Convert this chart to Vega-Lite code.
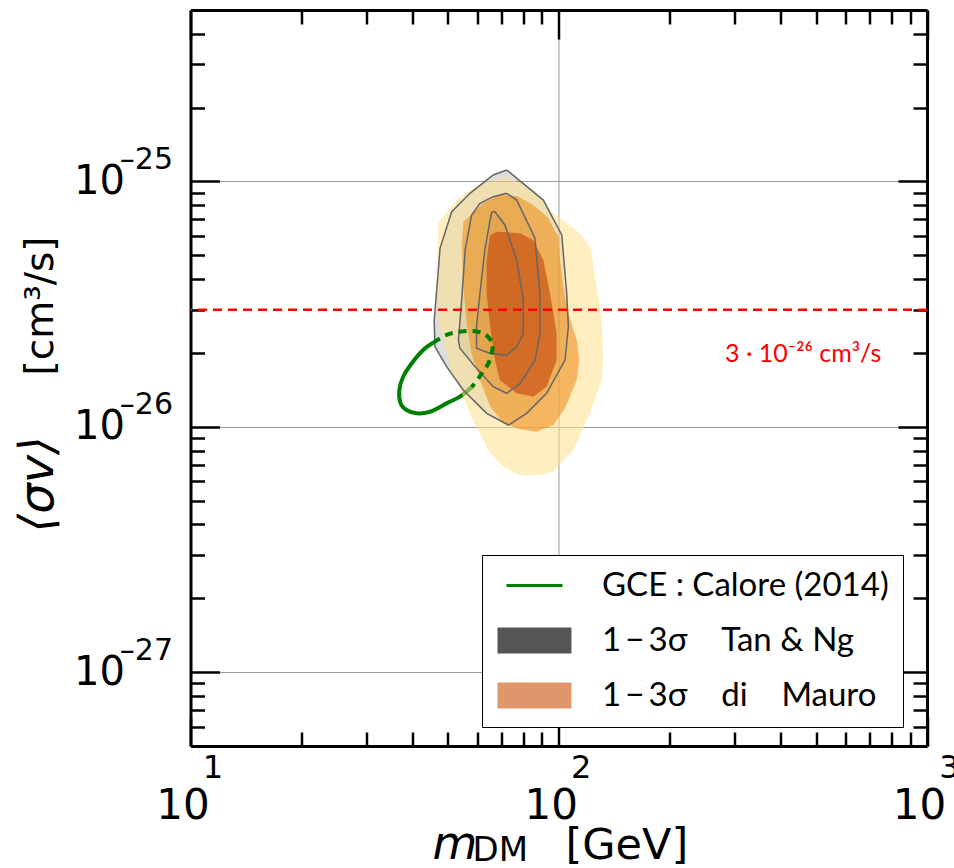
{
  "$schema": "https://vega.github.io/schema/vega-lite/v6.json",
  "width": 736.5,
  "height": 736,
  "autosize": {"type": "none"},
  "padding": {"left": 190.5, "top": 10, "right": 27, "bottom": 122},
  "background": "white",
  "config": {
    "view": {"stroke": null},
    "axis": {
      "domainColor": "black", "domainWidth": 3, "tickColor": "black", "tickWidth": 2.5,
      "labelColor": "black", "titleColor": "black", "labelFont": "DejaVu Sans", "titleFont": "DejaVu Sans",
      "titleFontWeight": "normal", "labelFontWeight": "normal", "labelOverlap": false, "labelFlush": false,
      "gridColor": "#999999", "gridWidth": 1
    },
    "legend": {
      "orient": "none", "legendX": 291.5, "legendY": 545, "padding": 14,
      "strokeColor": "black", "fillColor": "white", "cornerRadius": 0,
      "labelFont": "Lato", "labelFontSize": 33, "labelColor": "black", "labelOffset": 73,
      "rowPadding": 21, "symbolSize": 900, "symbolStrokeWidth": 0, "symbolOpacity": 1, "labelLimit": 500
    }
  },
  "datasets": {
    "c": [
      {"g": "dm3", "i": 0, "m": 47.1, "sv": 6.75e-26},
      {"g": "dm3", "i": 1, "m": 46.8, "sv": 4.79e-26},
      {"g": "dm3", "i": 2, "m": 47.1, "sv": 2.72e-26},
      {"g": "dm3", "i": 3, "m": 49.1, "sv": 2.12e-26},
      {"g": "dm3", "i": 4, "m": 51.2, "sv": 1.65e-26},
      {"g": "dm3", "i": 5, "m": 54.5, "sv": 1.37e-26},
      {"g": "dm3", "i": 6, "m": 58.0, "sv": 1.10e-26},
      {"g": "dm3", "i": 7, "m": 65.1, "sv": 7.80e-27},
      {"g": "dm3", "i": 8, "m": 70.7, "sv": 6.88e-27},
      {"g": "dm3", "i": 9, "m": 78.5, "sv": 6.36e-27},
      {"g": "dm3", "i": 10, "m": 88.9, "sv": 6.36e-27},
      {"g": "dm3", "i": 11, "m": 96.7, "sv": 6.56e-27},
      {"g": "dm3", "i": 12, "m": 109.5, "sv": 8.04e-27},
      {"g": "dm3", "i": 13, "m": 121.6, "sv": 1.135e-26},
      {"g": "dm3", "i": 14, "m": 130.9, "sv": 1.55e-26},
      {"g": "dm3", "i": 15, "m": 132.1, "sv": 1.87e-26},
      {"g": "dm3", "i": 16, "m": 130.9, "sv": 2.72e-26},
      {"g": "dm3", "i": 17, "m": 126.8, "sv": 3.72e-26},
      {"g": "dm3", "i": 18, "m": 122.1, "sv": 5.34e-26},
      {"g": "dm3", "i": 19, "m": 114.2, "sv": 6.15e-26},
      {"g": "dm3", "i": 20, "m": 105.1, "sv": 6.75e-26},
      {"g": "dm3", "i": 21, "m": 96.7, "sv": 7.42e-26},
      {"g": "dm3", "i": 22, "m": 85.3, "sv": 9.23e-26},
      {"g": "dm3", "i": 23, "m": 72.2, "sv": 1.046e-25},
      {"g": "dm3", "i": 24, "m": 61.1, "sv": 9.83e-26},
      {"g": "dm3", "i": 25, "m": 52.8, "sv": 8.40e-26},
      {"g": "dm3", "i": 26, "m": 47.1, "sv": 6.75e-26},
      {"g": "dm2", "i": 0, "m": 55.1, "sv": 6.86e-26},
      {"g": "dm2", "i": 1, "m": 54.5, "sv": 5.42e-26},
      {"g": "dm2", "i": 2, "m": 55.1, "sv": 3.72e-26},
      {"g": "dm2", "i": 3, "m": 56.4, "sv": 2.56e-26},
      {"g": "dm2", "i": 4, "m": 58.0, "sv": 1.99e-26},
      {"g": "dm2", "i": 5, "m": 61.1, "sv": 1.55e-26},
      {"g": "dm2", "i": 6, "m": 65.1, "sv": 1.21e-26},
      {"g": "dm2", "i": 7, "m": 70.7, "sv": 1.033e-26},
      {"g": "dm2", "i": 8, "m": 78.5, "sv": 9.77e-27},
      {"g": "dm2", "i": 9, "m": 87.1, "sv": 9.55e-27},
      {"g": "dm2", "i": 10, "m": 96.7, "sv": 1.017e-26},
      {"g": "dm2", "i": 11, "m": 104.0, "sv": 1.19e-26},
      {"g": "dm2", "i": 12, "m": 111.9, "sv": 1.55e-26},
      {"g": "dm2", "i": 13, "m": 113.7, "sv": 1.87e-26},
      {"g": "dm2", "i": 14, "m": 111.9, "sv": 2.26e-26},
      {"g": "dm2", "i": 15, "m": 106.2, "sv": 2.90e-26},
      {"g": "dm2", "i": 16, "m": 102.9, "sv": 3.72e-26},
      {"g": "dm2", "i": 17, "m": 100.8, "sv": 4.79e-26},
      {"g": "dm2", "i": 18, "m": 99.7, "sv": 5.95e-26},
      {"g": "dm2", "i": 19, "m": 93.7, "sv": 7.08e-26},
      {"g": "dm2", "i": 20, "m": 85.3, "sv": 8.02e-26},
      {"g": "dm2", "i": 21, "m": 76.9, "sv": 8.73e-26},
      {"g": "dm2", "i": 22, "m": 69.2, "sv": 8.81e-26},
      {"g": "dm2", "i": 23, "m": 62.4, "sv": 8.15e-26},
      {"g": "dm2", "i": 24, "m": 55.1, "sv": 6.86e-26},
      {"g": "dm1", "i": 0, "m": 67.8, "sv": 6.24e-26},
      {"g": "dm1", "i": 1, "m": 65.1, "sv": 6.05e-26},
      {"g": "dm1", "i": 2, "m": 63.7, "sv": 4.79e-26},
      {"g": "dm1", "i": 3, "m": 63.7, "sv": 3.50e-26},
      {"g": "dm1", "i": 4, "m": 65.1, "sv": 2.56e-26},
      {"g": "dm1", "i": 5, "m": 67.1, "sv": 1.87e-26},
      {"g": "dm1", "i": 6, "m": 69.2, "sv": 1.55e-26},
      {"g": "dm1", "i": 7, "m": 76.9, "sv": 1.37e-26},
      {"g": "dm1", "i": 8, "m": 85.3, "sv": 1.327e-26},
      {"g": "dm1", "i": 9, "m": 92.7, "sv": 1.457e-26},
      {"g": "dm1", "i": 10, "m": 98.7, "sv": 1.87e-26},
      {"g": "dm1", "i": 11, "m": 98.7, "sv": 2.40e-26},
      {"g": "dm1", "i": 12, "m": 94.7, "sv": 3.50e-26},
      {"g": "dm1", "i": 13, "m": 90.8, "sv": 4.79e-26},
      {"g": "dm1", "i": 14, "m": 85.3, "sv": 5.77e-26},
      {"g": "dm1", "i": 15, "m": 78.5, "sv": 6.15e-26},
      {"g": "dm1", "i": 16, "m": 67.8, "sv": 6.24e-26},
      {"g": "tn3", "i": 0, "m": 72.2, "sv": 1.114e-25},
      {"g": "tn3", "i": 1, "m": 90.8, "sv": 8.40e-26},
      {"g": "tn3", "i": 2, "m": 101.9, "sv": 6.05e-26},
      {"g": "tn3", "i": 3, "m": 105.1, "sv": 3.50e-26},
      {"g": "tn3", "i": 4, "m": 106.2, "sv": 2.56e-26},
      {"g": "tn3", "i": 5, "m": 104.0, "sv": 1.87e-26},
      {"g": "tn3", "i": 6, "m": 92.7, "sv": 1.37e-26},
      {"g": "tn3", "i": 7, "m": 81.8, "sv": 1.135e-26},
      {"g": "tn3", "i": 8, "m": 73.0, "sv": 1.017e-26},
      {"g": "tn3", "i": 9, "m": 63.7, "sv": 1.135e-26},
      {"g": "tn3", "i": 10, "m": 55.1, "sv": 1.41e-26},
      {"g": "tn3", "i": 11, "m": 49.6, "sv": 1.76e-26},
      {"g": "tn3", "i": 12, "m": 46.1, "sv": 2.12e-26},
      {"g": "tn3", "i": 13, "m": 45.9, "sv": 2.72e-26},
      {"g": "tn3", "i": 14, "m": 47.1, "sv": 4.36e-26},
      {"g": "tn3", "i": 15, "m": 47.6, "sv": 5.34e-26},
      {"g": "tn3", "i": 16, "m": 51.2, "sv": 7.53e-26},
      {"g": "tn3", "i": 17, "m": 57.4, "sv": 8.95e-26},
      {"g": "tn3", "i": 18, "m": 66.4, "sv": 1.063e-25},
      {"g": "tn3", "i": 19, "m": 72.2, "sv": 1.114e-25},
      {"g": "tn2", "i": 0, "m": 72.2, "sv": 8.95e-26},
      {"g": "tn2", "i": 1, "m": 76.9, "sv": 8.40e-26},
      {"g": "tn2", "i": 2, "m": 86.2, "sv": 5.87e-26},
      {"g": "tn2", "i": 3, "m": 88.9, "sv": 3.50e-26},
      {"g": "tn2", "i": 4, "m": 88.9, "sv": 2.40e-26},
      {"g": "tn2", "i": 5, "m": 86.2, "sv": 1.87e-26},
      {"g": "tn2", "i": 6, "m": 78.5, "sv": 1.50e-26},
      {"g": "tn2", "i": 7, "m": 72.2, "sv": 1.37e-26},
      {"g": "tn2", "i": 8, "m": 66.4, "sv": 1.457e-26},
      {"g": "tn2", "i": 9, "m": 59.2, "sv": 1.76e-26},
      {"g": "tn2", "i": 10, "m": 53.9, "sv": 2.09e-26},
      {"g": "tn2", "i": 11, "m": 53.4, "sv": 2.26e-26},
      {"g": "tn2", "i": 12, "m": 54.5, "sv": 3.29e-26},
      {"g": "tn2", "i": 13, "m": 55.7, "sv": 5.26e-26},
      {"g": "tn2", "i": 14, "m": 58.0, "sv": 7.30e-26},
      {"g": "tn2", "i": 15, "m": 61.1, "sv": 8.15e-26},
      {"g": "tn2", "i": 16, "m": 66.4, "sv": 8.67e-26},
      {"g": "tn2", "i": 17, "m": 72.2, "sv": 8.95e-26},
      {"g": "tn1", "i": 0, "m": 65.8, "sv": 7.53e-26},
      {"g": "tn1", "i": 1, "m": 67.1, "sv": 7.53e-26},
      {"g": "tn1", "i": 2, "m": 71.4, "sv": 6.65e-26},
      {"g": "tn1", "i": 3, "m": 76.9, "sv": 4.79e-26},
      {"g": "tn1", "i": 4, "m": 80.1, "sv": 3.29e-26},
      {"g": "tn1", "i": 5, "m": 80.1, "sv": 2.40e-26},
      {"g": "tn1", "i": 6, "m": 76.9, "sv": 2.12e-26},
      {"g": "tn1", "i": 7, "m": 72.2, "sv": 1.96e-26},
      {"g": "tn1", "i": 8, "m": 65.1, "sv": 1.99e-26},
      {"g": "tn1", "i": 9, "m": 59.8, "sv": 2.09e-26},
      {"g": "tn1", "i": 10, "m": 59.8, "sv": 2.56e-26},
      {"g": "tn1", "i": 11, "m": 61.1, "sv": 3.50e-26},
      {"g": "tn1", "i": 12, "m": 63.0, "sv": 5.26e-26},
      {"g": "tn1", "i": 13, "m": 65.1, "sv": 6.97e-26},
      {"g": "tn1", "i": 14, "m": 65.8, "sv": 7.53e-26},
      {"g": "gs", "i": 0, "m": 58.0, "sv": 1.449e-26},
      {"g": "gs", "i": 1, "m": 53.9, "sv": 1.327e-26},
      {"g": "gs", "i": 2, "m": 49.6, "sv": 1.246e-26},
      {"g": "gs", "i": 3, "m": 44.7, "sv": 1.152e-26},
      {"g": "gs", "i": 4, "m": 41.1, "sv": 1.135e-26},
      {"g": "gs", "i": 5, "m": 38.6, "sv": 1.171e-26},
      {"g": "gs", "i": 6, "m": 37.2, "sv": 1.246e-26},
      {"g": "gs", "i": 7, "m": 36.9, "sv": 1.41e-26},
      {"g": "gs", "i": 8, "m": 37.8, "sv": 1.60e-26},
      {"g": "gs", "i": 9, "m": 39.9, "sv": 1.815e-26},
      {"g": "gs", "i": 10, "m": 42.9, "sv": 2.06e-26},
      {"g": "gs", "i": 11, "m": 45.6, "sv": 2.20e-26},
      {"g": "gd", "i": 0, "m": 45.6, "sv": 2.20e-26},
      {"g": "gd", "i": 1, "m": 49.6, "sv": 2.37e-26},
      {"g": "gd", "i": 2, "m": 53.9, "sv": 2.44e-26},
      {"g": "gd", "i": 3, "m": 58.6, "sv": 2.46e-26},
      {"g": "gd", "i": 4, "m": 63.0, "sv": 2.38e-26},
      {"g": "gd", "i": 5, "m": 65.8, "sv": 2.22e-26},
      {"g": "gd", "i": 6, "m": 66.0, "sv": 2.06e-26},
      {"g": "gd", "i": 7, "m": 64.4, "sv": 1.815e-26},
      {"g": "gd", "i": 8, "m": 61.1, "sv": 1.61e-26},
      {"g": "gd", "i": 9, "m": 58.0, "sv": 1.449e-26}
    ]
  },
  "resolve": {"axis": {"x": "independent", "y": "independent"}},
  "layer": [
    {
      "data": {"name": "c"},
      "encoding": {
        "x": {
          "field": "m", "type": "quantitative",
          "scale": {"type": "log", "domain": [10, 1000], "nice": false},
          "axis": {
            "orient": "bottom",
            "values": [10, 20, 30, 40, 50, 60, 70, 80, 90, 100, 200, 300, 400, 500, 600, 700, 800, 900, 1000],
            "labelExpr": "indexof([10, 100, 1000], datum.value) >= 0 ? '10' : ''",
            "labelFontSize": 42, "labelPadding": 68, "labelOffset": -8, "labelBaseline": "top", "labelAlign": "center",
            "tickSize": {"condition": {"test": "indexof([10, 100, 1000], datum.value) >= 0", "value": -29}, "value": -14},
            "grid": true,
            "gridOpacity": {"condition": {"test": "datum.value == 100", "value": 1}, "value": 0},
            "title": "[GeV]", "titleX": 374.5, "titleY": 112, "titleAlign": "left", "titleBaseline": "alphabetic",
            "titleFontSize": 43, "titleAngle": 0
          }
        },
        "y": {
          "field": "sv", "type": "quantitative",
          "scale": {"type": "log", "domain": [5e-28, 5e-25], "nice": false},
          "axis": {
            "orient": "left",
            "values": [6e-28, 7e-28, 8e-28, 9e-28, 1e-27, 2e-27, 3e-27, 4e-27, 5e-27, 6e-27, 7e-27, 8e-27, 9e-27, 1e-26, 2e-26, 3e-26, 4e-26, 5e-26, 6e-26, 7e-26, 8e-26, 9e-26, 1e-25, 2e-25, 3e-25, 4e-25],
            "labelExpr": "(datum.value == 1e-25 || datum.value == 1e-26 || datum.value == 1e-27) ? '10' : ''",
            "labelFontSize": 40, "labelPadding": 95, "labelBaseline": "middle", "labelAlign": "right",
            "tickSize": {"condition": {"test": "datum.value == 1e-25 || datum.value == 1e-26 || datum.value == 1e-27", "value": -29}, "value": -14},
            "grid": true,
            "gridOpacity": {"condition": {"test": "datum.value == 1e-25 || datum.value == 1e-26 || datum.value == 1e-27", "value": 1}, "value": 0},
            "title": "[cm³/s]", "titleAngle": -90, "titleX": -138.5, "titleY": 365, "titleAlign": "left",
            "titleBaseline": "alphabetic", "titleFontSize": 39
          }
        }
      },
      "layer": [
        {
          "transform": [{"filter": "indexof(['tn3', 'tn2', 'tn1'], datum.g) >= 0"}],
          "mark": {"type": "line", "fill": "#555555", "fillOpacity": 0.2, "strokeOpacity": 0, "strokeWidth": 0},
          "encoding": {"detail": {"field": "g"}, "order": {"field": "i", "type": "quantitative"}}
        },
        {
          "transform": [{"filter": "datum.g == 'gs'"}],
          "mark": {"type": "line", "stroke": "#008000", "strokeWidth": 4, "interpolate": "cardinal"},
          "encoding": {"order": {"field": "i", "type": "quantitative"}}
        },
        {
          "transform": [{"filter": "datum.g == 'dm3'"}],
          "mark": {"type": "line", "fill": "#FDE08C", "fillOpacity": 0.55, "strokeOpacity": 0, "strokeWidth": 0},
          "encoding": {"order": {"field": "i", "type": "quantitative"}}
        },
        {
          "transform": [{"filter": "datum.g == 'dm2'"}],
          "mark": {"type": "line", "fill": "#EF8813", "fillOpacity": 0.55, "strokeOpacity": 0, "strokeWidth": 0},
          "encoding": {"order": {"field": "i", "type": "quantitative"}}
        },
        {
          "transform": [{"filter": "datum.g == 'dm1'"}],
          "mark": {"type": "line", "fill": "#BF3900", "fillOpacity": 0.55, "strokeOpacity": 0, "strokeWidth": 0},
          "encoding": {"order": {"field": "i", "type": "quantitative"}}
        },
        {
          "transform": [{"filter": "indexof(['tn3', 'tn2', 'tn1'], datum.g) >= 0"}],
          "mark": {"type": "line", "stroke": "#666666", "strokeWidth": 1.5},
          "encoding": {"detail": {"field": "g"}, "order": {"field": "i", "type": "quantitative"}}
        },
        {
          "transform": [{"filter": "datum.g == 'gd'"}],
          "mark": {"type": "line", "stroke": "#008000", "strokeWidth": 4, "strokeDash": [8, 6], "interpolate": "cardinal"},
          "encoding": {"order": {"field": "i", "type": "quantitative"}}
        }
      ]
    },
    {
      "layer": [
        {
          "data": {"values": [{"sv": 3e-26}]},
          "mark": {"type": "rule", "stroke": "red", "strokeWidth": 2.5, "strokeDash": [9, 6]},
          "encoding": {
            "y": {
              "field": "sv", "type": "quantitative",
              "scale": {"type": "log", "domain": [5e-28, 5e-25], "nice": false},
              "axis": {
                "orient": "right",
                "values": [6e-28, 7e-28, 8e-28, 9e-28, 1e-27, 2e-27, 3e-27, 4e-27, 5e-27, 6e-27, 7e-27, 8e-27, 9e-27, 1e-26, 2e-26, 3e-26, 4e-26, 5e-26, 6e-26, 7e-26, 8e-26, 9e-26, 1e-25, 2e-25, 3e-25, 4e-25],
                "labels": false, "grid": false, "title": null,
                "tickSize": {"condition": {"test": "datum.value == 1e-25 || datum.value == 1e-26 || datum.value == 1e-27", "value": -29}, "value": -14}
              }
            }
          }
        },
        {
          "data": {"values": [{"m": 282.8, "sv": 1.84e-26, "t": "3\u00a0·\u00a010⁻²⁶\u00a0cm³/s"}]},
          "mark": {"type": "text", "align": "left", "baseline": "alphabetic", "font": "Lato", "fontSize": 25, "fill": "red"},
          "encoding": {
            "x": {
              "field": "m", "type": "quantitative",
              "scale": {"type": "log", "domain": [10, 1000], "nice": false},
              "axis": {
                "orient": "top",
                "values": [10, 20, 30, 40, 50, 60, 70, 80, 90, 100, 200, 300, 400, 500, 600, 700, 800, 900, 1000],
                "labels": false, "grid": false,
                "tickSize": {"condition": {"test": "indexof([10, 100, 1000], datum.value) >= 0", "value": -29}, "value": -14},
                "title": "DM", "titleX": 281.5, "titleY": 850, "titleAlign": "left", "titleBaseline": "alphabetic",
                "titleFontSize": 34, "titleAngle": 0
              }
            },
            "y": {
              "field": "sv", "type": "quantitative",
              "scale": {"type": "log", "domain": [5e-28, 5e-25], "nice": false},
              "axis": {
                "orient": "right",
                "values": [6e-28, 7e-28, 8e-28, 9e-28, 1e-27, 2e-27, 3e-27, 4e-27, 5e-27, 6e-27, 7e-27, 8e-27, 9e-27, 1e-26, 2e-26, 3e-26, 4e-26, 5e-26, 6e-26, 7e-26, 8e-26, 9e-26, 1e-25, 2e-25, 3e-25, 4e-25],
                "labels": false, "grid": false, "title": null,
                "tickSize": {"condition": {"test": "datum.value == 1e-25 || datum.value == 1e-26 || datum.value == 1e-27", "value": -29}, "value": -14}
              }
            },
            "text": {"field": "t"}
          }
        }
      ]
    },
    {
      "data": {"name": "c"},
      "transform": [{"filter": "false"}],
      "mark": {"type": "point", "filled": true, "size": 900, "strokeWidth": 0, "opacity": 1},
      "encoding": {
        "x": {
          "field": "m", "type": "quantitative",
          "scale": {"type": "log", "domain": [10, 1000], "nice": false},
          "axis": {
            "orient": "bottom", "values": [10, 100, 1000],
            "labelExpr": "datum.value == 10 ? '1' : datum.value == 100 ? '2' : '3'",
            "ticks": false, "domain": false, "grid": false,
            "labelFontSize": 32, "labelPadding": 6, "labelOffset": 22, "labelBaseline": "top", "labelAlign": "center",
            "title": "m", "titleFontStyle": "italic", "titleX": 241.5, "titleY": 112, "titleAlign": "left",
            "titleBaseline": "alphabetic", "titleFontSize": 46, "titleAngle": 0
          }
        },
        "y": {
          "field": "sv", "type": "quantitative",
          "scale": {"type": "log", "domain": [5e-28, 5e-25], "nice": false},
          "axis": {
            "orient": "left", "values": [1e-27, 1e-26, 1e-25],
            "labelExpr": "datum.value == 1e-25 ? '–25' : datum.value == 1e-26 ? '–26' : '–27'",
            "ticks": false, "domain": false, "grid": false,
            "labelFontSize": 30, "labelPadding": 18, "labelOffset": -22, "labelAlign": "right", "labelBaseline": "middle",
            "title": "⟨σv⟩", "titleFontStyle": "italic", "titleAngle": -90, "titleX": -138.5, "titleY": 522,
            "titleAlign": "left", "titleBaseline": "alphabetic", "titleFontSize": 48
          }
        },
        "color": {
          "field": "lg", "type": "nominal",
          "scale": {"domain": ["GCE\u00a0:\u00a0Calore\u00a0(2014)", "1\u2009−\u20093σ\u00a0\u00a0\u00a0\u00a0Tan\u00a0&\u00a0Ng", "1\u2009−\u20093σ\u00a0\u00a0\u00a0\u00a0di\u00a0\u00a0\u00a0\u00a0Mauro"], "range": ["#008000", "#555555", "#E0956A"]},
          "legend": {"title": null}
        },
        "shape": {
          "field": "lg", "type": "nominal",
          "scale": {"domain": ["GCE\u00a0:\u00a0Calore\u00a0(2014)", "1\u2009−\u20093σ\u00a0\u00a0\u00a0\u00a0Tan\u00a0&\u00a0Ng", "1\u2009−\u20093σ\u00a0\u00a0\u00a0\u00a0di\u00a0\u00a0\u00a0\u00a0Mauro"], "range": ["M-0.4,-0.1L3.33,-0.1L3.33,0.1L-0.4,0.1Z", "M-1,-0.87L3.93,-0.87L3.93,0.87L-1,0.87Z", "M-1,-0.87L3.93,-0.87L3.93,0.87L-1,0.87Z"]},
          "legend": {"title": null}
        }
      }
    }
  ]
}
